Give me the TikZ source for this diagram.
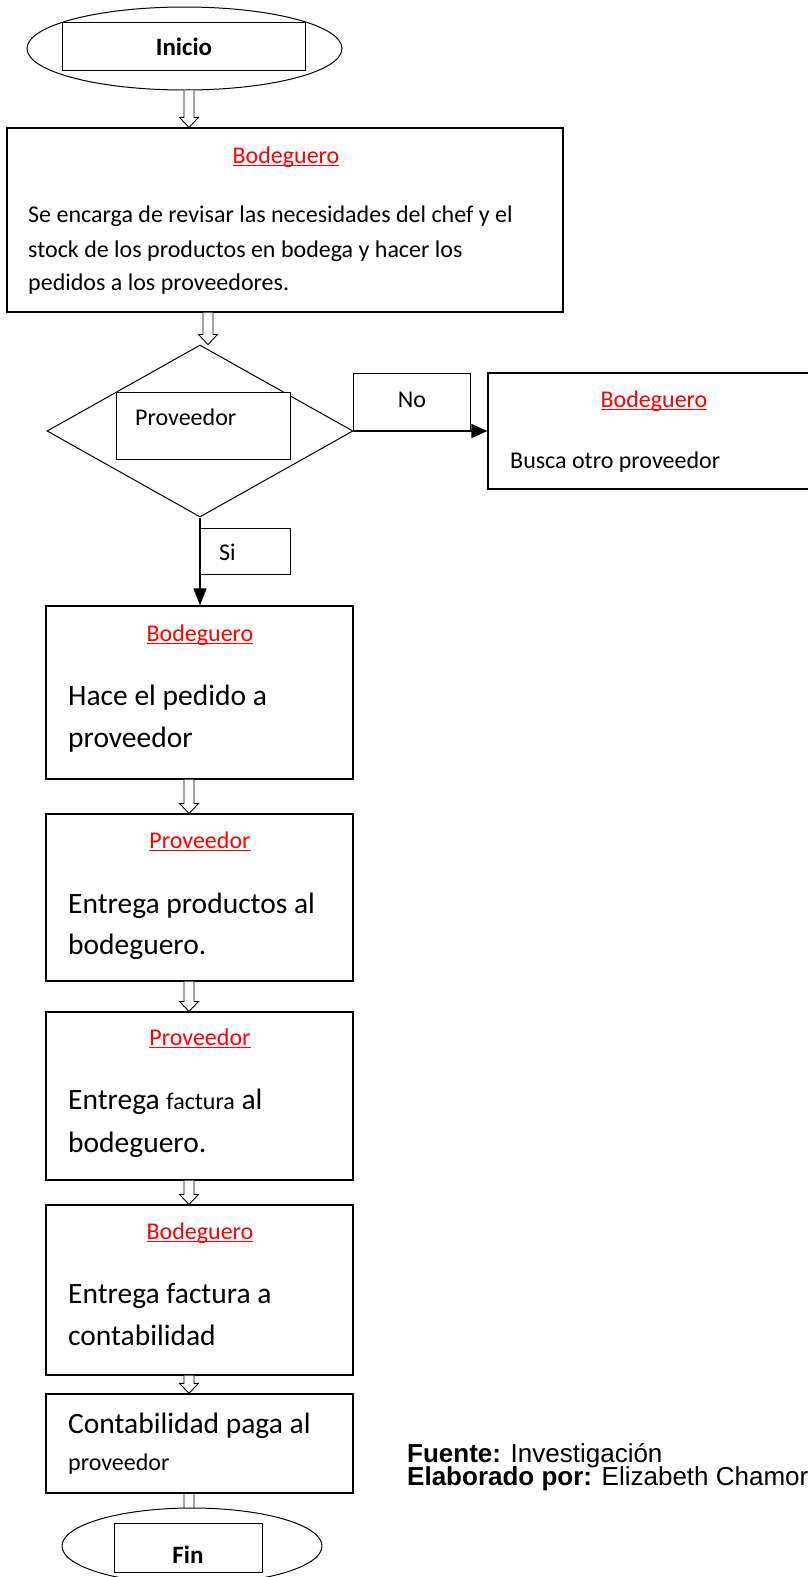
\documentclass[tikz,border=0pt]{standalone}
\usepackage{fontspec}
\setmainfont{Carlito}
\newfontfamily\arialfont{Liberation Sans}
\usetikzlibrary{shapes.geometric,arrows.meta,calc,backgrounds}

% red underlined heading word
\newcommand\redul[1]{\setbox0\hbox{#1}\rlap{\raisebox{-3pt}{\rule{\wd0}{1.2pt}}}\box0}
% hollow down arrow: x coordinate, from, to
\newcommand\hollowarrow[3]{%
  \draw[fill=white,line width=0.9pt] let \p1=(#2 -| #1), \p2=(#3 -| #1) in
    (\x1-5pt,\y1) -- (\x1-5pt,\y2+10pt) -- (\x1-9.5pt,\y2+10pt) -- (\x1,\y2)
    -- (\x1+9.5pt,\y2+10pt) -- (\x1+5pt,\y2+10pt) -- (\x1+5pt,\y1);}

\tikzset{
  box/.style={draw,line width=1.1pt,inner sep=0pt,fill=white},
  hdr/.style={anchor=base,inner sep=0pt,text=red,font=\fontsize{24}{28}\selectfont},
  sm/.style={anchor=base west,inner sep=0pt,font=\fontsize{24}{28}\selectfont},
  big/.style={anchor=base west,inner sep=0pt,font=\fontsize{29.5}{34}\selectfont},
  endtxt/.style={anchor=base,inner sep=0pt,font=\fontsize{25}{30}\selectfont\bfseries},
  src/.style={anchor=base west,inner sep=0pt,font=\arialfont\fontsize{26}{23}\selectfont},
}

\begin{document}
\begin{tikzpicture}[x=1pt,y=-1pt]
  \useasboundingbox (0,0) rectangle (808,1577);
  \coordinate (ax) at (189,0);
  \coordinate (ax2) at (208,0);

  % inicio
  \node[ellipse,draw,line width=1pt,minimum width=315pt,minimum height=83pt,inner sep=0pt] (inicio) at (184.5,48.5) {};
  \node[box,line width=1pt,minimum width=243pt,minimum height=48pt] (inicioR) at (183.5,46) {};
  \node[endtxt] (iniciot) at (184,55) {Inicio};

  % bodeguero revisa
  \node[box,minimum width=556pt,minimum height=184pt] (b1) at (285,220) {};
  \node[hdr] (b1h) at (286,163) {\redul{Bodeguero}};
  \node[sm] (b1a) at (28,222) {Se encarga de revisar las necesidades del chef y el};
  \node[sm] (b1b) at (28,257) {stock de los productos en bodega y hacer los};
  \node[sm] (b1c) at (28,290) {pedidos a los proveedores.};

  % decision
  \node[diamond,draw,line width=1pt,minimum width=306pt,minimum height=172pt,inner sep=0pt] (dec) at (200,431) {};
  \node[box,line width=1pt,minimum width=174pt,minimum height=67pt] (decR) at (203,425.5) {};
  \node[sm] (dect) at (135,425) {Proveedor};

  \node[box,line width=1pt,minimum width=117pt,minimum height=58pt] (nob) at (411.5,402) {};
  \node[sm,anchor=base] (not) at (412,407) {No};

  \node[box,line width=1.3pt,minimum width=321pt,minimum height=116pt] (busca) at (648.5,431) {};
  \node[hdr] (buscah) at (654,407) {\redul{Bodeguero}};
  \node[sm] (buscat) at (510,468) {Busca otro proveedor};

  \node[box,line width=1pt,minimum width=91pt,minimum height=46pt] (sib) at (244.5,551) {};
  \node[sm] (sit) at (219,560) {Si};

  % pasos
  \node[box,minimum width=307pt,minimum height=173pt] (b2) at (199.5,692.5) {};
  \node[hdr] (b2h) at (200,641) {\redul{Bodeguero}};
  \node[big] (b2a) at (68,705) {Hace el pedido a};
  \node[big] (b2b) at (68,747) {proveedor};

  \node[box,minimum width=307pt,minimum height=167pt] (b3) at (199.5,897.5) {};
  \node[hdr] (b3h) at (200,848) {\redul{Proveedor}};
  \node[big] (b3a) at (68,913) {Entrega productos al};
  \node[big] (b3b) at (68,954) {bodeguero.};

  \node[box,minimum width=307pt,minimum height=168pt] (b4) at (199.5,1096) {};
  \node[hdr] (b4h) at (200,1045) {\redul{Proveedor}};
  \node[big] (b4a) at (68,1109) {Entrega {\fontsize{24}{28}\selectfont factura} al};
  \node[big] (b4b) at (68,1152) {bodeguero.};

  \node[box,minimum width=307pt,minimum height=170pt] (b5) at (199.5,1290) {};
  \node[hdr] (b5h) at (200,1239) {\redul{Bodeguero}};
  \node[big] (b5a) at (68,1303) {Entrega factura a};
  \node[big] (b5b) at (68,1345) {contabilidad};

  \node[box,line width=1.3pt,minimum width=307pt,minimum height=99pt] (b6) at (199.5,1443.5) {};
  \node[big] (b6a) at (68,1433) {Contabilidad paga al};
  \node[sm] (b6b) at (68,1470) {proveedor};

  % fin
  \node[ellipse,draw,fill=white,line width=1pt,minimum width=260pt,minimum height=76pt,inner sep=0pt] (fin) at (192,1546) {};
  \node[box,line width=1pt,minimum width=148pt,minimum height=49pt] (finR) at (188,1547.5) {};
  \node[endtxt] (fint) at (188,1563) {Fin};

  % flechas
  \hollowarrow{ax}{inicio.south}{b1.north}
  \hollowarrow{ax2}{b1.south}{dec.north}
  \hollowarrow{ax}{b2.south}{b3.north}
  \hollowarrow{ax}{b3.south}{b4.north}
  \hollowarrow{ax}{b4.south}{b5.north}
  \hollowarrow{ax}{b5.south}{b6.north}
  \begin{scope}[on background layer]
    \hollowarrow{ax}{b6.south}{finR.north}
  \end{scope}
  \draw[line width=1.4pt,-{Triangle[length=16pt,width=14pt]}] (dec.east) -- (busca.west);
  \draw[line width=1.4pt,-{Triangle[length=17pt,width=13pt]}] (dec.south) -- (dec.south |- b2.north);

  % fuente
  \node[src] (fuente) at (407,1462) {\textbf{Fuente:} Investigación};
  \node[src] (elab) at (407,1485) {\textbf{Elaborado por:} Elizabeth Chamor};
\end{tikzpicture}
\end{document}
